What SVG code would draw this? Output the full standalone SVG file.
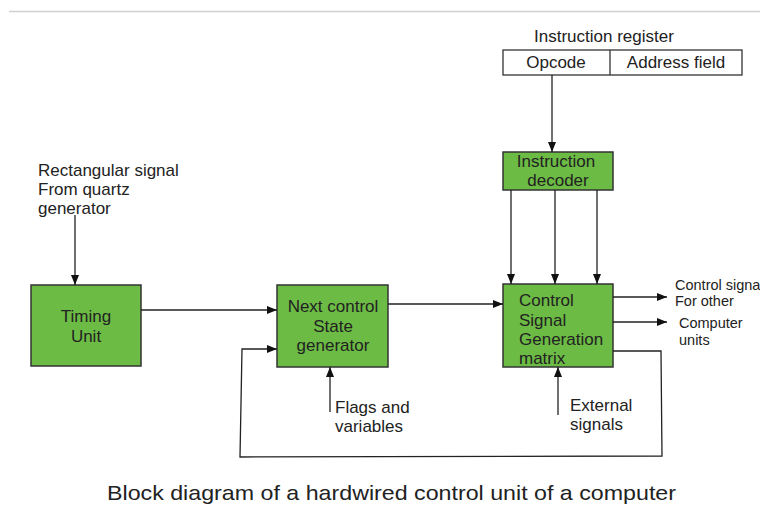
<svg xmlns="http://www.w3.org/2000/svg" width="760" height="523" viewBox="0 0 760 523">
  <defs>
    <marker id="arrow" viewBox="0 0 10 10" refX="10" refY="5" markerWidth="10" markerHeight="10" markerUnits="userSpaceOnUse" orient="auto">
      <path d="M0,1 L10,5 L0,9 Z" fill="#111"/>
    </marker>
    <style>
      text { font-family: "Liberation Sans", Arial, sans-serif; fill: #222; }
      .block { fill: #6cbb44; stroke: #333; stroke-width: 1.5; }
      .reg { fill: #fff; stroke: #333; stroke-width: 1.3; }
      .lbl { font-size: 17px; }
      .small { font-size: 14.5px; }
      .mid { text-anchor: middle; }
      .wire { fill: none; stroke: #222; stroke-width: 1.3; }
    </style>
  </defs>

  <rect width="760" height="523" fill="#fff"/>
  <line x1="9" y1="11.5" x2="760" y2="11.5" stroke="#d0d0d0" stroke-width="1.5"/>

  <!-- instruction register -->
  <g id="instruction-register">
    <text class="lbl" x="534" y="42">Instruction register</text>
    <rect class="reg" x="503" y="50" width="239" height="25"/>
    <line x1="610" y1="50" x2="610" y2="75" stroke="#333" stroke-width="1.3"/>
    <text class="lbl mid" x="556" y="68">Opcode</text>
    <text class="lbl mid" x="676" y="68">Address field</text>
  </g>

  <!-- instruction decoder -->
  <g id="instruction-decoder">
    <rect class="block" x="503" y="152" width="110" height="38"/>
    <text class="lbl mid" x="556" y="167">Instruction</text>
    <text class="lbl mid" x="558" y="186">decoder</text>
  </g>

  <!-- clock source note -->
  <g id="quartz-input">
    <text class="lbl" x="38" y="176">Rectangular signal</text>
    <text class="lbl" x="38" y="195">From quartz</text>
    <text class="lbl" x="38" y="214">generator</text>
  </g>

  <!-- timing unit -->
  <g id="timing-unit">
    <rect class="block" x="31" y="285" width="110" height="81"/>
    <text class="lbl mid" x="86" y="322">Timing</text>
    <text class="lbl mid" x="86" y="342">Unit</text>
  </g>

  <!-- next control state generator -->
  <g id="next-state">
    <rect class="block" x="277" y="285" width="111" height="82"/>
    <text class="lbl mid" x="333" y="312">Next control</text>
    <text class="lbl mid" x="333" y="332">State</text>
    <text class="lbl mid" x="333" y="351">generator</text>
  </g>

  <!-- control signal generation matrix -->
  <g id="csg-matrix">
    <rect class="block" x="503" y="284" width="110" height="83"/>
    <text class="lbl" x="519" y="306">Control</text>
    <text class="lbl" x="519" y="326">Signal</text>
    <text class="lbl" x="519" y="345">Generation</text>
    <text class="lbl" x="519" y="364">matrix</text>
  </g>

  <!-- side labels -->
  <g id="flags">
    <text class="lbl" x="335" y="413">Flags and</text>
    <text class="lbl" x="335" y="432">variables</text>
  </g>
  <g id="external">
    <text class="lbl" x="570" y="411">External</text>
    <text class="lbl" x="570" y="430">signals</text>
  </g>
  <g id="outputs">
    <text class="small" x="675" y="290">Control signals</text>
    <text class="small" x="675" y="306">For other</text>
    <text class="small" x="679" y="328">Computer</text>
    <text class="small" x="679" y="345">units</text>
  </g>

  <!-- connectors -->
  <g id="connectors" class="wire" marker-end="url(#arrow)">
    <line x1="552" y1="75" x2="552" y2="152"/>
    <line x1="75" y1="215" x2="75" y2="285"/>
    <line x1="511" y1="190" x2="511" y2="284"/>
    <line x1="555" y1="190" x2="555" y2="284"/>
    <line x1="597" y1="190" x2="597" y2="284"/>
    <line x1="141" y1="310" x2="277" y2="310"/>
    <line x1="388" y1="304" x2="503" y2="304"/>
    <line x1="613" y1="297" x2="667" y2="297"/>
    <line x1="613" y1="322" x2="667" y2="322"/>
    <line x1="330" y1="412" x2="330" y2="367"/>
    <line x1="558" y1="415" x2="558" y2="367"/>
    <polyline points="613,351 661,351 662,456 240,457 242,349 277,349"/>
  </g>

  <text x="107" y="500" font-size="21" textLength="569" lengthAdjust="spacingAndGlyphs">Block diagram of a hardwired control unit of a computer</text>
</svg>
